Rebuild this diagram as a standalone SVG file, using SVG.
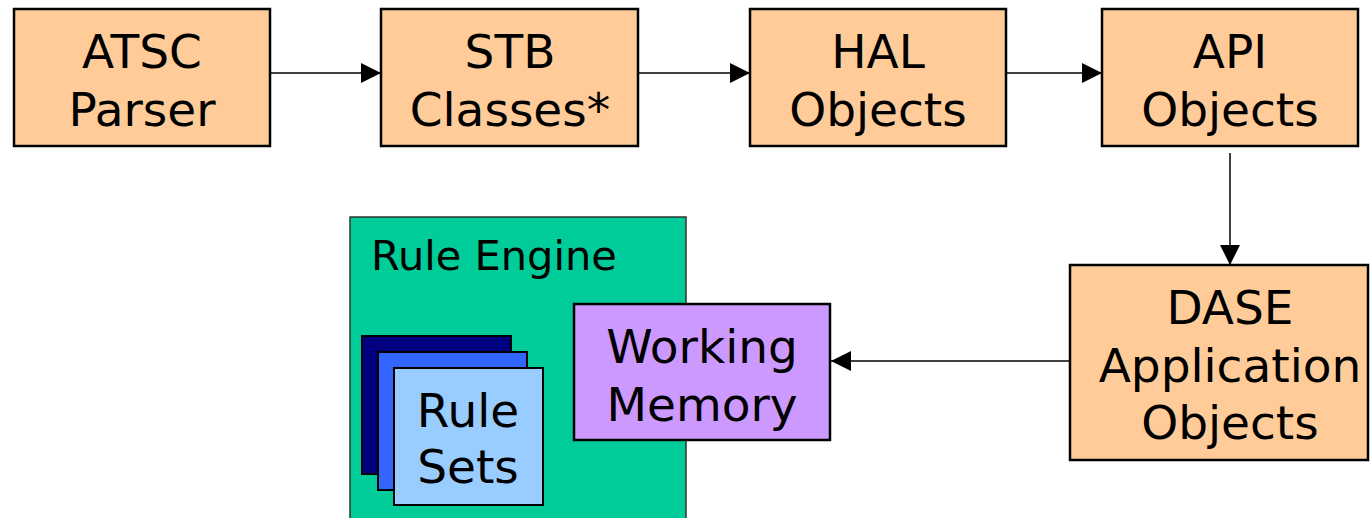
<svg xmlns="http://www.w3.org/2000/svg" width="1372" height="518" viewBox="0 0 1372 518">
<style>
text{font-family:"DejaVu Sans","Verdana",sans-serif;font-size:47px;fill:#000;text-anchor:middle}
.box{fill:#FFCC99;stroke:#000;stroke-width:2.5}
.conn{stroke:#000;stroke-width:1.5;fill:none}
</style>
<defs>
<marker id="ah" markerWidth="20" markerHeight="20" refX="20" refY="10" orient="auto" markerUnits="userSpaceOnUse">
<path d="M0,0 L20,10 L0,20 Z" fill="#000"/>
</marker>
</defs>
<rect width="1372" height="518" fill="#fff"/>
<g id="connectors">
<line class="conn" x1="270" y1="73" x2="381" y2="73" marker-end="url(#ah)"/>
<line class="conn" x1="638" y1="73" x2="750" y2="73" marker-end="url(#ah)"/>
<line class="conn" x1="1006" y1="73" x2="1102" y2="73" marker-end="url(#ah)"/>
<line class="conn" x1="1230" y1="153" x2="1230" y2="265" marker-end="url(#ah)"/>
<line class="conn" x1="1070" y1="361" x2="831" y2="361" marker-end="url(#ah)"/>
</g>
<g id="atsc">
<rect class="box" x="14" y="9" width="256" height="137"/>
<text x="142" y="68">ATSC</text>
<text x="142" y="126">Parser</text>
</g>
<g id="stb">
<rect class="box" x="381" y="9" width="257" height="137"/>
<text x="510" y="68">STB</text>
<text x="510" y="126">Classes*</text>
</g>
<g id="hal">
<rect class="box" x="750" y="9" width="256" height="137"/>
<text x="878" y="68">HAL</text>
<text x="878" y="126">Objects</text>
</g>
<g id="api">
<rect class="box" x="1102" y="9" width="256" height="137"/>
<text x="1230" y="68">API</text>
<text x="1230" y="126">Objects</text>
</g>
<g id="dase">
<rect class="box" x="1070" y="265" width="298" height="195"/>
<text x="1230" y="324">DASE</text>
<text x="1230" y="382">Application</text>
<text x="1230" y="439">Objects</text>
</g>
<g id="rule-engine">
<rect x="350" y="217" width="336" height="310" fill="#00CC99" stroke="#333" stroke-width="1.5"/>
<text x="371" y="270" style="font-size:41.5px;text-anchor:start">Rule Engine</text>
</g>
<g id="rule-sets">
<rect x="362" y="336" width="149" height="138" fill="#000080" stroke="#000" stroke-width="2"/>
<rect x="378" y="352" width="149" height="138" fill="#3366FF" stroke="#000" stroke-width="2"/>
<rect x="394" y="368" width="149" height="137" fill="#99CCFF" stroke="#000" stroke-width="2"/>
<text x="468" y="427">Rule</text>
<text x="468" y="483">Sets</text>
</g>
<g id="working-memory">
<rect x="574" y="304" width="256" height="136" fill="#CC99FF" stroke="#000" stroke-width="2.5"/>
<text x="702" y="363">Working</text>
<text x="702" y="421">Memory</text>
</g>
</svg>
